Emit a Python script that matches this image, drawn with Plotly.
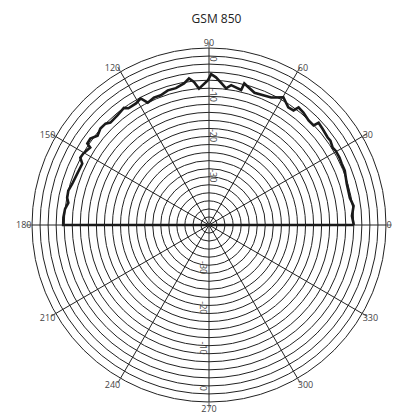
import plotly.graph_objects as go

# angle (deg) and gain (dB)
angles = [0, 3.6, 7.5, 10.9, 13, 16.7, 21.8, 24.8, 27.3, 30.4, 32, 34.8, 36.4, 40.3,
          43, 43.6, 46.4, 50, 52.7, 53.6, 56, 59.8, 64, 71, 76, 76.6, 81, 82.9, 85,
          87.3, 89.2, 90.4, 94.2, 96, 97.8, 100, 103.6, 107, 110.4, 113.4, 116.6,
          118.4, 121, 124.6, 126, 129.9, 133.9, 135.6, 138.4, 141.3, 143.9, 146.2,
          146.9, 150.4, 152.4, 154.2, 158.7, 163.2, 166.3, 169.2, 171, 173.6, 177,
          180, 0]
gain = [-6.0, -6.4, -5.75, -6.35, -6.35, -6.25, -5.65, -5.65, -5.5, -5.5, -5.75,
        -5.25, -5.35, -5.0, -4.75, -6.1, -6.1, -5.5, -5.25, -6.6, -6.75, -5.25,
        -6.75, -7.25, -5.75, -7.5, -6.8, -7.75, -6.6, -5.25, -4.5, -6.0, -8.0,
        -6.25, -5.25, -6.25, -7.0, -7.0, -7.6, -7.5, -8.0, -6.25, -6.75, -6.75,
        -6.0, -6.5, -6.65, -6.0, -5.9, -6.5, -5.5, -5.6, -6.75, -6.05, -5.9, -7.0,
        -6.85, -6.5, -6.0, -6.1, -6.6, -6.0, -5.75, -5.75, -6.0]

angle_ticks = list(range(0, 360, 30))
angle_text = [str(a) for a in angle_ticks]

r_min, r_max = -42, 2
grid_vals = list(range(-40, 3, 2))

# dB labels sit a little inside their rings in the original
db_labels = [0, -10, -20, -30]
label_shift = 1.4
label_pos = [v - label_shift for v in db_labels]
label_text = [str(v) for v in db_labels]

label_font = dict(family='Open Sans', size=9, color='#444')

fig = go.Figure()
fig.add_trace(go.Scatterpolar(r=gain, theta=angles, mode='lines',
                              line=dict(color='#1a1a1a', width=2.6),
                              showlegend=False, hoverinfo='skip'))
# invisible traces so the label-only overlays exist
for sp in ['polar2', 'polar3', 'polar4']:
    fig.add_trace(go.Scatterpolar(r=[r_min], theta=[0], mode='markers',
                                  marker=dict(opacity=0), subplot=sp,
                                  showlegend=False, hoverinfo='skip'))

overlay_radial = dict(range=[r_min, r_max], tickvals=label_pos, ticktext=label_text,
                      tickfont=label_font, showline=False, ticks='', showgrid=False)
overlay_angular = dict(visible=False, rotation=0, direction='counterclockwise')
full = dict(x=[0, 1], y=[0, 1])

fig.update_layout(
    width=401, height=416,
    margin=dict(l=24, r=23, t=40, b=22),
    paper_bgcolor='white',
    title=dict(text='GSM 850', x=0.52, xanchor='center', y=0.985, yanchor='top',
               font=dict(family='Open Sans', size=12, color='#222')),
    polar=dict(
        domain=full,
        bgcolor='white',
        radialaxis=dict(angle=90, range=[r_min, r_max], tickvals=grid_vals,
                        showticklabels=False, ticks='', showline=False,
                        showgrid=True, gridcolor='#222', gridwidth=1),
        angularaxis=dict(rotation=0, direction='counterclockwise',
                         tickvals=angle_ticks, showticklabels=False,
                         gridcolor='#222', gridwidth=1, linecolor='#222', linewidth=1,
                         ticks='outside', ticklen=5, tickcolor='#555'),
    ),
    polar2=dict(domain=full, bgcolor='rgba(0,0,0,0)',
                radialaxis=dict(angle=90, tickangle=180, **overlay_radial),
                angularaxis=overlay_angular),
    polar3=dict(domain=full, bgcolor='rgba(0,0,0,0)',
                radialaxis=dict(angle=270, tickangle=0, **overlay_radial),
                angularaxis=overlay_angular),
    # angle labels drawn without tick length so they sit close to the rim
    polar4=dict(domain=full, bgcolor='rgba(0,0,0,0)',
                radialaxis=dict(visible=False, range=[r_min, r_max]),
                angularaxis=dict(rotation=0, direction='counterclockwise',
                                 tickvals=angle_ticks, ticktext=angle_text,
                                 showline=False, showgrid=False, ticks='',
                                 tickfont=label_font)),
)

fig.write_html('out.html')
